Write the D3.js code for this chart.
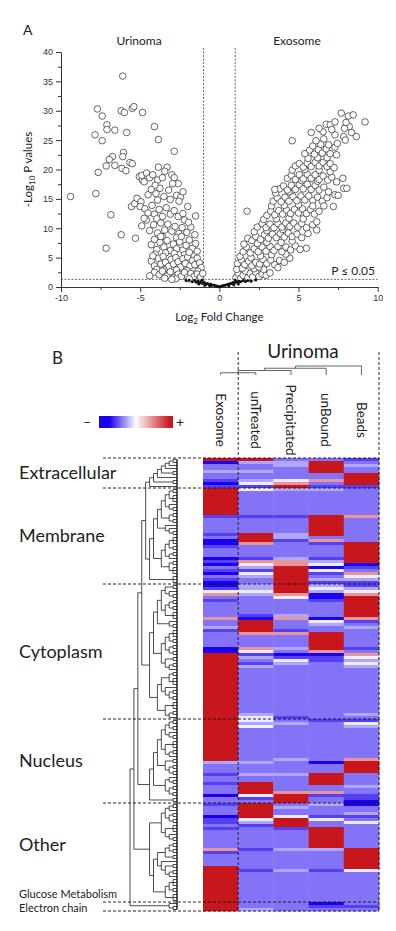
<!DOCTYPE html>
<html>
<head>
<meta charset="utf-8">
<script src="https://cdnjs.cloudflare.com/ajax/libs/d3/7.8.5/d3.min.js"></script>
<style>
  body { margin: 0; background: #fff; }
  svg { display: block; font-family: Lato, "Open Sans", sans-serif; }
  .axis text { font-family: "Liberation Sans", Arial, sans-serif; font-size: 9px; fill: #333; }
  .axis path, .axis line { stroke: #333; }
</style>
</head>
<body>
<div id="chart"></div>
<script>
/* ---------- Panel A : volcano plot ---------- */

const xTicks = [-10, -5, 0, 5, 10]
const xMinor = [-7.5, -2.5, 2.5, 7.5]
const yTicks = [0, 5, 10, 15, 20, 25, 30, 35, 40]
const yMinor = [2.5, 7.5, 12.5, 17.5, 22.5, 27.5, 32.5, 37.5]
const foldCut = [-1, 1]      // log2 fold change = +/-1
const pCut = 1.3             // -log10(0.05)

// [log2 fold change, -log10 p]
const urinomaPoints = [
  [-9.4,15.4],[-6.1,35.9],[-7.7,30.3],[-7.4,29.1],[-7.1,27.6],[-7.1,26.8],[-7.85,25.9],[-6.6,26.7],
  [-7.4,24.9],[-6.2,30.0],[-6.0,29.7],[-5.5,30.4],[-5.4,30.7],[-4.85,29.7],[-5.85,26.3],[-4.1,27.3],
  [-3.85,25.1],[-2.85,23.1],[-6.75,22.2],[-6.95,21.7],[-7.15,20.6],[-6.6,20.7],[-7.65,19.5],[-6.05,22.9],
  [-6.1,22.2],[-6.15,20.2],[-5.9,19.8],[-5.65,21.2],[-5.5,21.0],[-7.8,15.9],[-6.85,12.3],[-6.2,8.9],[-7.15,6.6],
  [-5.3,8.3],[-5.55,13.7],[-5.35,14.2],[-5.05,18.8],[-4.85,18.2],
  [-4.9,19.0],[-4.6,19.4],[-4.4,18.6],[-4.2,19.1],[-3.9,18.2],[-3.85,20.4],[-3.3,20.4],[-3.45,19.7],
  [-3.0,19.1],[-2.85,18.6],[-2.6,17.6],[-4.75,17.9],[-4.05,17.3],[-3.6,18.6],
  [-5.2,15.1],[-4.95,14.5],[-4.5,15.7],[-4.3,16.6],[-4.0,15.9],[-3.75,16.8],[-3.5,15.4],[-3.2,16.5],
  [-2.95,17.6],[-2.7,15.6],[-2.45,15.3],[-2.3,16.2],[-3.9,14.8],[-3.1,14.9],[-2.55,14.6],
  [-5.0,13.7],[-4.7,13.3],[-4.5,12.6],[-4.25,13.9],[-4.1,12.4],[-3.8,13.2],[-3.6,12.0],[-3.35,13.5],
  [-3.1,12.4],[-2.85,13.0],[-2.6,12.0],[-2.3,12.5],[-2.0,13.7],[-1.5,12.1],[-4.6,11.4],[-3.95,11.6],[-2.2,11.4],
  [-4.9,10.4],[-4.75,11.7],[-4.4,9.6],[-4.15,10.6],[-3.9,9.2],[-3.7,10.9],[-3.45,9.7],[-3.25,10.7],
  [-3.0,9.5],[-2.8,10.3],[-2.55,9.1],[-2.35,10.1],[-2.05,9.3],[-1.8,10.2],[-1.55,8.9],[-3.6,8.6],[-2.7,8.4],[-1.95,11.0],
  [-4.3,7.2],[-4.1,8.1],[-3.95,6.4],[-3.75,7.6],[-3.5,6.8],[-3.3,7.9],[-3.1,6.2],[-2.9,7.3],[-2.7,6.5],
  [-2.5,7.7],[-2.3,6.3],[-2.1,7.1],[-1.9,8.0],[-1.7,6.6],[-1.5,7.4],[-4.05,5.6],[-3.4,5.8],[-2.85,5.7],
  [-2.2,5.5],[-1.6,5.3],[-3.7,8.6],[-2.4,8.6],[-1.4,6.1],
  [-4.3,4.4],[-4.1,3.6],[-3.85,4.9],[-3.7,3.9],[-3.55,5.2],[-3.4,4.2],[-3.2,3.5],[-3.05,4.7],[-2.9,3.9],
  [-2.75,5.0],[-2.6,4.3],[-2.45,3.4],[-2.3,4.8],[-2.15,4.0],[-2.0,5.1],[-1.85,3.6],[-1.7,4.5],[-1.55,3.8],
  [-1.4,4.9],[-1.25,4.1],[-1.15,3.3],[-3.95,3.0],[-3.5,2.9],[-2.7,2.9],[-2.05,2.8],[-1.35,2.7],[-4.2,5.3],[-1.9,5.9],
  [-4.1,2.5],[-3.8,2.1],[-3.6,2.7],[-3.3,1.9],[-3.1,2.6],[-2.9,1.6],[-2.6,2.2],[-2.4,1.8],[-2.2,2.5],
  [-2.0,1.7],[-1.8,2.3],[-1.6,1.8],[-1.4,2.2],[-1.2,1.7],[-1.05,2.3],[-3.45,1.5],[-2.75,1.4],[-1.9,1.4],
  [-4.4,1.9],[-3.0,1.3]
]

const exosomePoints = [
  [1.05,1.6],[1.2,2.3],[1.35,1.5],[1.5,2.0],[1.65,2.7],[1.8,1.6],[1.95,2.3],[2.1,1.7],[2.3,2.5],[2.5,1.8],
  [2.7,2.2],[2.95,2.0],[1.1,3.0],[1.45,3.2],[2.2,3.1],[2.8,3.0],[3.2,2.4],[2.5,3.4],
  [1.15,4.0],[1.4,4.6],[1.6,3.8],[1.85,4.4],[2.05,3.6],[2.3,4.2],[2.55,3.9],[2.75,4.7],[3.0,4.0],[3.25,4.6],
  [3.5,3.8],[3.8,4.5],[4.1,4.2],[4.45,4.9],[1.3,5.2],[2.0,5.0],[2.6,5.3],[3.3,5.5],[4.2,5.6],[3.7,3.3],
  [1.5,6.0],[1.7,6.8],[1.95,5.8],[2.2,6.5],[2.45,6.0],[2.7,6.8],[2.95,6.1],[3.2,6.9],[3.45,6.2],[3.7,6.9],
  [3.95,6.0],[4.2,6.8],[4.5,6.3],[4.8,7.0],[5.1,6.4],[5.5,6.6],[1.55,7.3],[2.4,7.4],[3.0,7.6],[3.9,7.6],[4.6,7.8],
  [1.8,8.3],[2.05,7.9],[2.3,8.6],[2.6,8.1],[2.85,8.9],[3.1,8.3],[3.35,9.0],[3.6,8.4],[3.85,9.1],[4.1,8.5],
  [4.35,9.2],[4.6,8.6],[4.9,9.0],[5.2,8.4],[5.6,9.1],[2.2,9.4],[3.0,9.6],[4.0,9.8],
  [2.4,10.2],[2.7,10.8],[2.95,10.1],[3.2,10.7],[3.45,10.1],[3.7,10.8],[3.95,10.2],[4.2,10.9],[4.45,10.3],
  [4.7,10.9],[4.95,10.2],[5.2,10.8],[5.5,10.1],[5.9,10.6],[6.15,9.7],[2.8,11.5],[3.6,11.6],[4.4,11.7],[5.3,11.6],
  [3.0,12.2],[3.25,12.9],[3.5,12.3],[3.75,13.0],[4.0,12.4],[4.25,13.1],[4.5,12.5],[4.75,13.2],[5.0,12.6],
  [5.25,13.3],[5.5,12.5],[5.75,13.2],[6.0,12.4],[6.3,12.9],[6.15,11.1],[1.75,12.9],[3.3,13.8],[4.1,13.9],[5.0,14.0],
  [3.4,14.6],[3.65,15.2],[3.9,14.5],[4.15,15.3],[4.4,14.6],[4.65,15.4],[4.9,14.7],[5.15,15.5],[5.4,14.8],
  [5.65,15.5],[5.9,14.7],[6.2,15.3],[6.5,14.6],[6.8,15.2],[7.2,13.7],[6.6,13.8],[5.9,13.8],[3.55,16.0],[4.4,16.2],
  [3.8,16.7],[4.05,17.2],[4.3,16.5],[4.55,17.3],[4.8,16.6],[5.05,17.4],[5.3,16.7],[5.55,17.5],[5.8,16.6],
  [6.05,17.3],[6.3,16.5],[6.6,17.0],[6.9,16.2],[7.3,15.7],[7.5,15.6],[7.85,16.8],[8.05,16.8],[3.5,16.6],[5.2,18.1],[6.2,18.0],
  [4.3,18.5],[4.55,19.0],[4.8,18.3],[5.05,19.1],[5.3,18.4],[5.55,19.2],[5.8,18.5],[6.05,19.1],[6.3,18.3],
  [6.55,18.9],[6.85,18.2],[7.1,18.7],[7.4,17.9],[7.8,18.5],[4.6,19.9],[5.4,20.0],[6.3,19.9],[7.0,19.6],
  [4.8,20.6],[5.05,21.0],[5.3,20.4],[5.55,21.1],[5.8,20.5],[6.05,21.2],[6.3,20.6],[6.55,21.2],[6.8,20.5],
  [7.0,21.0],[7.25,20.3],[5.6,21.9],[6.2,22.0],[6.8,22.0],
  [5.4,22.7],[5.7,23.3],[6.0,22.6],[6.25,23.4],[6.5,22.8],[6.75,23.5],[7.0,22.7],[7.4,22.5],[5.9,24.0],
  [6.4,24.3],[6.9,24.2],[7.3,23.8],[6.1,24.9],[6.6,25.2],[4.6,24.9],[7.45,24.45],
  [5.8,26.3],[6.55,26.4],[7.3,25.9],[7.85,25.6],[7.95,25.0],[8.2,27.3],[8.35,26.3],[8.65,25.6],[6.75,27.7],
  [7.0,27.6],[7.3,28.1],[7.7,29.6],[8.15,29.1],[8.45,29.3],[9.2,28.1],[6.3,27.0],[7.9,27.0],[7.1,26.8],[8.0,28.0]
]

// non significant proteins (small black marks)
const nsPoints = [
  [-1.55,1.1],[-1.45,0.8],[-1.35,1.0],[-1.25,0.7],[-1.15,0.9],[-1.05,0.6],[-0.95,0.8],[-0.85,0.5],
  [-0.75,0.6],[-0.65,0.4],[-0.55,0.5],[-0.45,0.3],[-0.35,0.35],[-0.25,0.2],[-0.15,0.15],[-0.05,0.05],
  [0.05,0.1],[0.15,0.15],[0.25,0.25],[0.35,0.3],[0.45,0.4],[0.55,0.45],[0.65,0.55],[0.75,0.6],
  [0.85,0.75],[0.95,0.7],[1.05,0.9],[1.15,0.8],[1.25,1.0],[1.35,0.9],[1.5,1.1],[1.65,0.95],[1.8,1.1],
  [2.0,1.0],[2.3,1.2],[-1.7,0.9],[-1.9,1.2],[-1.3,0.5],[-0.9,0.3],[0.9,0.4],[1.2,0.5],[0.6,0.2],
  [-0.6,0.2],[-2.1,1.1],[1.0,1.2],[-1.1,1.2]
]

/* ---------- Panel B : heat map ---------- */

const columns = ["Exosome", "unTreated", "Precipitated", "unBound", "Beads"]
const colTree = [[[["Exosome", "unTreated"], "Precipitated"], "unBound"], "Beads"]

const sectionNames = ["Extracellular", "Membrane", "Cytoplasm", "Nucleus", "Other", "Electron chain"]
const sectionRows = [10, 32, 45, 28, 33, 3]
const labelNames = ["Extracellular", "Membrane", "Cytoplasm", "Nucleus", "Other", "Glucose Metabolism", "Electron chain"]
const labelRows = [10, 32, 45, 28, 28, 5, 3]

// cell codes: B deep blue, m dark, b base, l light, w white, p pink, R red (run length after letter)
const codeValue = { B: -1, m: -0.75, b: -0.55, l: -0.35, w: -0.08, p: 0.45, R: 1 }

const exosomeCells = [
  "R B b2 l b2 m B m",
  "R9 m b5 m b B2 m b3 B m B b m B b m B",
  "B m w p b m b5 p b2 l m b5 B2 R22",
  "R14 l b3 m b2 m b3 B b2",
  "m b3 B m2 b m b6 p m b4 R12",
  "R3"
]
const untreatedCells = [
  "R l b2 l b2 l w m",
  "w b8 m b5 R3 p b4 m p w l m w l b2",
  "l2 w l b6 m B R4 p b4 p w m l b m l b15 l w",
  "w l w b11 l b3 l b2 R4 w m b",
  "R5 w l m b7 m b6 m b10",
  "b2 l"
]
const precipitatedCells = [
  "b l2 b4 w p R",
  "l b8 m b5 l2 m b b4 l p2 R6",
  "R3 p w b5 l p b3 m p b4 l b B m w l b16 b m",
  "b l b11 l b4 l b5 p R3",
  "b l b2 w R3 m b6 l b6 l b10",
  "b3"
]
const unboundCells = [
  "b R4 b2 p b m",
  "l b8 R7 b p m b4 m l w B w m b l m",
  "l w l B2 m b5 B w l b2 R6 p B m2 b19",
  "m b13 B b3 R4 b2 p m b2",
  "l b3 m w b2 R7 l b6 m b10",
  "B m b"
]
const beadsCells = [
  "m b l b2 R4 m",
  "b9 p b8 R7 B m b p w l m",
  "m l w p R7 p m b l b6 m b p w l w l b15 l b",
  "m w l b10 p R4 b4 l b2 m2 B",
  "B b2 l m b w b8 R7 w b10",
  "b m b"
]

// row dendrogram, one subtree per section (number n = flat cluster of n leaves)
const treeExtracellular = [[[[[[2,1],1],2],1],2],1]
const treeMembrane = [[[[[[2,3],[1,2]],[2,2]],[1,[1,2]]],[[[3,2],[2,1]],[2,3]]],3]
const treeCytoplasm = [[[[[2,[1,2]],[[2,2],3]],[1,2]],[[[3,2],[2,2]],[2,[2,1]]]],[[[2,3],[1,[2,2]]],[3,[2,1]]]]
const treeNucleus = [[[[[[2,2],[1,2]],[3,[2,1]]],[2,[2,2]]],[[1,2],[2,2]]],2]
const treeOther = [[[[2,1],[2,2]],[3,[1,2]]],[[[[2,2],2],[1,[2,[2,1]]]],[[3,2],3]]]
const treeElectron = [1,2]

/* ---------- drawing ---------- */

const W = 396, H = 931
const svg = d3.select("#chart").append("svg")
  .attr("width", W)
  .attr("height", H)

const ink = "#222"

// scales for A
const x = d3.scaleLinear().domain([-10, 10]).range([61, 377.7])
const y = d3.scaleLinear().domain([0, 40]).range([287, 52])

const gA = svg.append("g")

gA.append("text").attr("x", 23).attr("y", 35)
  .style("font-size", "14px").attr("fill", ink).text("A")

// axes
gA.append("g").attr("class", "axis")
  .attr("transform", `translate(0,${y(0)})`)
  .call(d3.axisBottom(x).tickValues(xTicks).tickSize(5).tickSizeOuter(0).tickFormat(d => String(d)))
gA.append("g").attr("class", "axis")
  .attr("transform", `translate(0,${y(0)})`)
  .call(d3.axisBottom(x).tickValues(xMinor).tickSize(3).tickFormat(""))
  .select(".domain").remove()
gA.append("g").attr("class", "axis")
  .attr("transform", `translate(${x(-10)},0)`)
  .call(d3.axisLeft(y).tickValues(yTicks).tickSize(5).tickSizeOuter(0).tickFormat(d => String(d)))
gA.append("g").attr("class", "axis")
  .attr("transform", `translate(${x(-10)},0)`)
  .call(d3.axisLeft(y).tickValues(yMinor).tickSize(3).tickFormat(""))
  .select(".domain").remove()

// threshold lines
gA.selectAll(".vcut").data(foldCut).join("line")
  .attr("class", "vcut")
  .attr("x1", d => x(d)).attr("x2", d => x(d))
  .attr("y1", 48).attr("y2", y(0))
  .attr("stroke", "#444").attr("stroke-width", 0.8).attr("stroke-dasharray", "2,1.5")
gA.append("line")
  .attr("x1", x(-10)).attr("x2", x(10))
  .attr("y1", y(pCut)).attr("y2", y(pCut))
  .attr("stroke", "#444").attr("stroke-width", 0.8).attr("stroke-dasharray", "2,1.5")

// points
gA.selectAll(".pt").data(urinomaPoints.concat(exosomePoints)).join("circle")
  .attr("class", "pt")
  .attr("cx", d => x(d[0])).attr("cy", d => y(d[1]))
  .attr("r", 3.3)
  .attr("fill", "#fff").attr("stroke", "#333").attr("stroke-width", 0.75)
gA.selectAll(".ns").data(nsPoints).join("circle")
  .attr("class", "ns")
  .attr("cx", d => x(d[0])).attr("cy", d => y(d[1]))
  .attr("r", 1.5).attr("fill", "#111")

// texts
gA.append("text").attr("x", 139).attr("y", 45).attr("text-anchor", "middle")
  .style("font-size", "12px").attr("fill", ink).text("Urinoma")
gA.append("text").attr("x", 297).attr("y", 45).attr("text-anchor", "middle")
  .style("font-size", "12px").attr("fill", ink).text("Exosome")
gA.append("text").attr("x", 375).attr("y", 275).attr("text-anchor", "end")
  .style("font-size", "12px").attr("fill", ink).text("P \u2264 0.05")

const xl = gA.append("text").attr("x", x(0)).attr("y", 321).attr("text-anchor", "middle")
  .style("font-size", "11.5px").attr("fill", ink)
xl.append("tspan").text("Log")
xl.append("tspan").attr("dy", 3).style("font-size", "8px").text("2")
xl.append("tspan").attr("dy", -3).text(" Fold Change")

const yl = gA.append("text").attr("transform", `translate(32,${y(20)}) rotate(-90)`)
  .attr("text-anchor", "middle").style("font-size", "11.5px").attr("fill", ink)
yl.append("tspan").text("-Log")
yl.append("tspan").attr("dy", 3).style("font-size", "8px").text("10")
yl.append("tspan").attr("dy", -3).text(" P values")

/* ---- B ---- */
const gB = svg.append("g")

const nRows = d3.sum(sectionRows)
const rowY = d3.scaleBand().domain(d3.range(nRows)).range([458, 911])
const colX = d3.scaleBand().domain(columns).range([203, 379])
const color = d3.scaleLinear().domain([-1, 0, 1])
  .range(["#1c00f0", "#ffffff", "#c8161d"]).interpolate(d3.interpolateRgb)
// y of a row boundary (row index may be nRows = bottom edge)
const edgeY = i => i < nRows ? rowY(i) : rowY.range()[1]

function decode(parts) {
  const out = []
  for (const m of parts.join(" ").matchAll(/([A-Za-z])(\d*)/g)) {
    const n = m[2] ? +m[2] : 1
    for (let i = 0; i < n; i++) out.push(codeValue[m[1]])
  }
  return out
}
const cellTable = [exosomeCells, untreatedCells, precipitatedCells, unboundCells, beadsCells]
const cells = []
cellTable.forEach((parts, c) => {
  decode(parts).forEach((v, r) => cells.push({ col: columns[c], row: r, v: v }))
})

gB.append("text").attr("x", 52).attr("y", 364)
  .style("font-size", "17px").attr("fill", ink).text("B")

gB.selectAll(".cell").data(cells).join("rect")
  .attr("class", "cell")
  .attr("x", d => colX(d.col))
  .attr("y", d => rowY(d.row))
  .attr("width", colX.bandwidth() + 0.3)
  .attr("height", rowY.bandwidth() + 0.4)
  .attr("fill", d => color(d.v))

// column labels
gB.selectAll(".collab").data(columns).join("text")
  .attr("class", "collab")
  .attr("transform", d => `translate(${colX(d) + colX.bandwidth() / 2},420) rotate(90)`)
  .attr("text-anchor", "middle").attr("dy", "0.35em")
  .style("font-size", "13.5px").attr("fill", ink)
  .text(d => d)

gB.append("text").attr("x", 303).attr("y", 358).attr("text-anchor", "middle")
  .style("font-size", "19px").attr("fill", ink).text("Urinoma")

// column dendrogram
const colRoot = d3.hierarchy(colTree, d => Array.isArray(d) ? d : null)
d3.cluster().size([colX.range()[1] - colX.range()[0], 9]).separation(() => 1)(colRoot)
gB.selectAll(".clink").data(colRoot.links()).join("path")
  .attr("class", "clink")
  .attr("d", l => `M${203 + l.source.x},${366 + l.source.y}H${203 + l.target.x}V${366 + l.target.y}`)
  .attr("fill", "none").attr("stroke", "#555").attr("stroke-width", 0.9)

// row dendrogram
const rowTree = [[[[[treeExtracellular, treeMembrane], treeCytoplasm], treeNucleus], treeOther], treeElectron]
const rowRoot = d3.hierarchy(rowTree, d => Array.isArray(d) ? d : (d > 1 ? d3.range(d).map(() => 1) : null))
const denLeft = 130, denRight = 177
d3.cluster().size([rowY.range()[1] - rowY.range()[0], denRight - denLeft]).separation(() => 1)(rowRoot)
const top0 = rowY.range()[0]
gB.selectAll(".rlink").data(rowRoot.links()).join("path")
  .attr("class", "rlink")
  .attr("d", l => `M${denLeft + l.source.y},${top0 + l.source.x}V${top0 + l.target.x}H${denLeft + l.target.y}`)
  .attr("fill", "none").attr("stroke", "#111").attr("stroke-width", 0.75)
const leafExt = d3.extent(rowRoot.leaves(), d => d.x)
gB.append("line")
  .attr("x1", denRight).attr("x2", denRight)
  .attr("y1", top0 + leafExt[0]).attr("y2", top0 + leafExt[1])
  .attr("stroke", "#111").attr("stroke-width", 1.4)

// section dashed lines
const bounds = [0, ...d3.cumsum(sectionRows)]
gB.selectAll(".hcut").data(bounds).join("line")
  .attr("class", "hcut")
  .attr("x1", 103).attr("x2", colX.range()[1])
  .attr("y1", d => edgeY(d)).attr("y2", d => edgeY(d))
  .attr("stroke", "#111").attr("stroke-width", 0.9).attr("stroke-dasharray", "3,2")
gB.selectAll(".vcutB").data([colX("unTreated"), colX.range()[1]]).join("line")
  .attr("class", "vcutB")
  .attr("x1", d => d).attr("x2", d => d)
  .attr("y1", 352).attr("y2", rowY.range()[1])
  .attr("stroke", "#111").attr("stroke-width", 0.9).attr("stroke-dasharray", "3,2")

// section labels
const labelStart = [0, ...d3.cumsum(labelRows)]
const small = new Set(["Glucose Metabolism", "Electron chain"])
gB.selectAll(".seclab").data(labelNames).join("text")
  .attr("class", "seclab")
  .attr("x", 19)
  .attr("y", (d, i) => (edgeY(labelStart[i]) + edgeY(labelStart[i + 1])) / 2 + (d === "Electron chain" ? 1.5 : 0))
  .attr("dy", "0.35em")
  .style("font-size", d => small.has(d) ? "11px" : "18px")
  .attr("fill", ink)
  .text(d => d)

// colour legend
const grad = svg.append("defs").append("linearGradient").attr("id", "lg")
const legendStops = [[0, -1], [0.14, -1], [0.5, 0], [0.55, 0.12], [0.96, 1], [1, 1]]
grad.selectAll("stop").data(legendStops).join("stop")
  .attr("offset", d => d[0]).attr("stop-color", d => color(d[1]))
gB.append("rect").attr("x", 99).attr("y", 416).attr("width", 74).attr("height", 12)
  .attr("fill", "url(#lg)")
gB.append("text").attr("x", 87).attr("y", 422).attr("dy", "0.35em").attr("text-anchor", "middle")
  .style("font-size", "14px").attr("fill", ink).text("\u2013")
gB.append("text").attr("x", 180).attr("y", 422).attr("dy", "0.35em").attr("text-anchor", "middle")
  .style("font-size", "14px").attr("fill", ink).text("+")
</script>
</body>
</html>
